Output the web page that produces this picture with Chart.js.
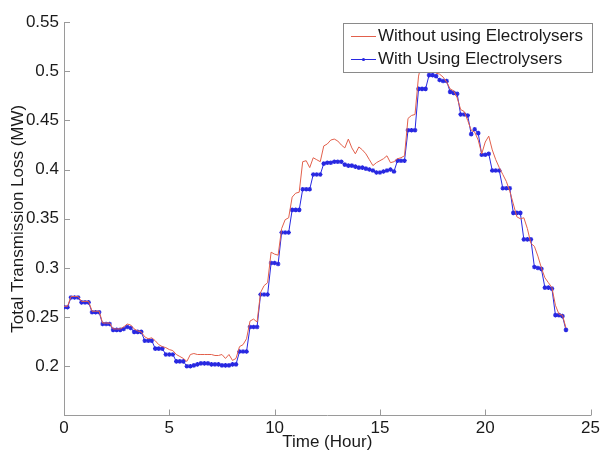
<!DOCTYPE html>
<html>
<head>
<meta charset="utf-8">
<script src="https://cdn.jsdelivr.net/npm/chart.js@4.4.1/dist/chart.umd.min.js"></script>
<style>
  html, body { margin: 0; padding: 0; background: #fff; }
  #wrap { width: 603px; height: 451px; }
</style>
</head>
<body>
<div id="wrap"><canvas id="lossChart"></canvas></div>
<script>
// Time axis: samples every 10 minutes, 0 .. 23.83 h
const stepsPerHour = 6;
const sampleCount = 144;

// Total transmission loss (MW) without electrolysers (red line)
const lossWithout = [
  0.261, 0.261, 0.271, 0.271, 0.271, 0.266, 0.266, 0.266, 0.256, 0.256,
  0.256, 0.244, 0.244, 0.244, 0.238, 0.238, 0.238, 0.240, 0.243, 0.242,
  0.238, 0.236, 0.235, 0.230, 0.228, 0.229, 0.226, 0.222, 0.220, 0.219,
  0.217, 0.216, 0.212, 0.210, 0.208, 0.205, 0.212, 0.213, 0.212, 0.212,
  0.212, 0.212, 0.212, 0.211, 0.211, 0.212, 0.208, 0.212, 0.206, 0.208,
  0.220, 0.222, 0.228, 0.246, 0.248, 0.245, 0.275, 0.282, 0.285, 0.316,
  0.314, 0.313, 0.340, 0.349, 0.351, 0.372, 0.376, 0.377, 0.408, 0.409,
  0.402, 0.412, 0.410, 0.408, 0.424, 0.426, 0.430, 0.431, 0.429, 0.425,
  0.422, 0.431, 0.422, 0.416, 0.423, 0.420, 0.416, 0.410, 0.404, 0.407,
  0.409, 0.411, 0.414, 0.407, 0.408, 0.411, 0.412, 0.414, 0.452, 0.455,
  0.456, 0.495, 0.510, 0.512, 0.505, 0.502, 0.498, 0.497, 0.494, 0.489,
  0.482, 0.480, 0.473, 0.461, 0.459, 0.450, 0.440, 0.438, 0.430, 0.416,
  0.428, 0.434, 0.420, 0.410, 0.402, 0.395, 0.388, 0.378, 0.365, 0.352,
  0.350, 0.351, 0.340, 0.325, 0.322, 0.312, 0.300, 0.290, 0.285, 0.280,
  0.262, 0.253, 0.252, 0.239
];

// Total transmission loss (MW) with electrolysers (blue line with markers)
const lossWith = [
  0.260, 0.260, 0.270, 0.270, 0.270, 0.265, 0.265, 0.265, 0.255, 0.255,
  0.255, 0.243, 0.243, 0.243, 0.237, 0.237, 0.237, 0.238, 0.240, 0.239,
  0.235, 0.235, 0.235, 0.226, 0.226, 0.226, 0.218, 0.218, 0.218, 0.212,
  0.212, 0.212, 0.205, 0.205, 0.205, 0.200, 0.200, 0.201, 0.202, 0.203,
  0.203, 0.203, 0.202, 0.202, 0.202, 0.201, 0.201, 0.201, 0.202, 0.202,
  0.215, 0.215, 0.215, 0.240, 0.240, 0.240, 0.273, 0.273, 0.273, 0.305,
  0.305, 0.304, 0.336, 0.336, 0.336, 0.359, 0.359, 0.359, 0.380, 0.380,
  0.380, 0.395, 0.395, 0.395, 0.406, 0.407, 0.407, 0.408, 0.408, 0.408,
  0.405, 0.404, 0.404, 0.403, 0.402, 0.402, 0.401, 0.400, 0.399, 0.397,
  0.397, 0.398, 0.399, 0.400, 0.398, 0.409, 0.409, 0.409, 0.440, 0.440,
  0.440, 0.482, 0.482, 0.482, 0.496, 0.496, 0.495, 0.491, 0.490, 0.490,
  0.479, 0.478, 0.477, 0.456, 0.456, 0.455, 0.436, 0.441, 0.437, 0.415,
  0.415, 0.416, 0.399, 0.399, 0.399, 0.381, 0.381, 0.381, 0.356, 0.356,
  0.356, 0.329, 0.329, 0.329, 0.301, 0.300, 0.299, 0.280, 0.280, 0.279,
  0.252, 0.252, 0.251, 0.237
];

const seriesNames = ['Without using Electrolysers', 'With Using Electrolysers'];
const xTicks = [0, 5, 10, 15, 20, 25];
const yTicks = [0.15, 0.2, 0.25, 0.3, 0.35, 0.4, 0.45, 0.5, 0.55];

const hours = [];
for (let i = 0; i < sampleCount; i++) hours.push(i / stepsPerHour);

const toPoints = (vals) => vals.map((v, i) => ({ x: hours[i], y: v }));

const RED = 'rgb(226, 96, 76)';
const BLUE = 'rgb(40, 40, 225)';
const AXIS = '#9a9a9a';
const FONT = "'Liberation Sans', Arial, sans-serif";

// small tick marks drawn inside the plot, like the MATLAB original
const insideTicks = {
  id: 'insideTicks',
  afterDraw(chart) {
    const { ctx, chartArea, scales } = chart;
    ctx.save();
    ctx.strokeStyle = AXIS;
    ctx.lineWidth = 1;
    ctx.beginPath();
    xTicks.forEach(t => {
      const px = Math.round(scales.x.getPixelForValue(t)) + 0.5;
      ctx.moveTo(px, chartArea.bottom);
      ctx.lineTo(px, chartArea.bottom - 6);
    });
    yTicks.slice(1).forEach(t => {
      const py = Math.round(scales.y.getPixelForValue(t)) + 0.5;
      ctx.moveTo(chartArea.left, py);
      ctx.lineTo(chartArea.left + 6, py);
    });
    ctx.stroke();
    ctx.restore();
  }
};

// boxed legend in the upper right corner
const boxLegend = {
  id: 'boxLegend',
  afterDraw(chart) {
    const { ctx } = chart;
    const bx = 343, by = 23, bw = 249, bh = 49;
    ctx.save();
    ctx.fillStyle = '#fff';
    ctx.fillRect(bx, by, bw, bh);
    ctx.strokeStyle = '#8a8a8a';
    ctx.lineWidth = 1;
    ctx.strokeRect(bx + 0.5, by + 0.5, bw, bh);
    ctx.font = '17px ' + FONT;
    ctx.textBaseline = 'middle';
    ctx.fillStyle = '#1a1a1a';
    const rows = [by + 13, by + 36];
    chart.data.datasets.forEach((ds, i) => {
      const y = rows[i];
      ctx.strokeStyle = ds.borderColor;
      ctx.beginPath();
      ctx.moveTo(bx + 8, y + 0.5);
      ctx.lineTo(bx + 33, y + 0.5);
      ctx.stroke();
      if (ds.pointRadius > 0) {
        ctx.beginPath();
        ctx.arc(bx + 20.5, y + 0.5, 1.6, 0, Math.PI * 2);
        ctx.fillStyle = ds.borderColor;
        ctx.fill();
        ctx.fillStyle = '#1a1a1a';
      }
      ctx.fillText(ds.label, bx + 35, y);
    });
    ctx.restore();
  }
};

new Chart(document.getElementById('lossChart'), {
  type: 'line',
  data: {
    datasets: [
      {
        label: seriesNames[0],
        data: toPoints(lossWithout),
        borderColor: RED,
        backgroundColor: RED,
        borderWidth: 1,
        pointRadius: 0,
        tension: 0
      },
      {
        label: seriesNames[1],
        data: toPoints(lossWith),
        borderColor: BLUE,
        backgroundColor: BLUE,
        borderWidth: 1,
        pointStyle: 'star',
        pointRadius: 2.3,
        pointBorderWidth: 1.2,
        pointBorderColor: BLUE,
        tension: 0
      }
    ]
  },
  options: {
    responsive: true,
    maintainAspectRatio: false,
    animation: false,
    layout: { padding: { top: 22, right: 11, left: 0, bottom: 0 } },
    plugins: {
      legend: { display: false },
      tooltip: { enabled: false }
    },
    scales: {
      x: {
        type: 'linear',
        min: 0,
        max: 25,
        afterFit: (scale) => { scale.height = 35.5; },
        afterBuildTicks: (scale) => { scale.ticks = xTicks.map(v => ({ value: v })); },
        grid: { display: false, drawTicks: false },
        border: { display: true, color: AXIS, width: 1 },
        ticks: {
          padding: 3,
          color: '#1a1a1a',
          font: { family: FONT, size: 17 },
          maxRotation: 0,
          callback: (v) => String(v)
        },
        title: {
          display: true,
          text: 'Time (Hour)',
          color: '#1a1a1a',
          font: { family: FONT, size: 17, lineHeight: 1 },
          padding: { top: -3, bottom: 0 }
        }
      },
      y: {
        type: 'linear',
        min: 0.15,
        max: 0.55,
        afterFit: (scale) => { scale.width = 64; },
        afterBuildTicks: (scale) => { scale.ticks = yTicks.map(v => ({ value: v })); },
        grid: { display: false, drawTicks: false },
        border: { display: true, color: AXIS, width: 1 },
        ticks: {
          padding: 5,
          color: '#1a1a1a',
          font: { family: FONT, size: 17 },
          callback: (v) => (Math.abs(v - 0.15) < 1e-6 ? '' : String(+v.toFixed(2)))
        },
        title: {
          display: true,
          text: 'Total Transmission Loss (MW)',
          color: '#1a1a1a',
          font: { family: FONT, size: 17 },
          padding: { top: 8, bottom: 0 }
        }
      }
    }
  },
  plugins: [insideTicks, boxLegend]
});
</script>
</body>
</html>
